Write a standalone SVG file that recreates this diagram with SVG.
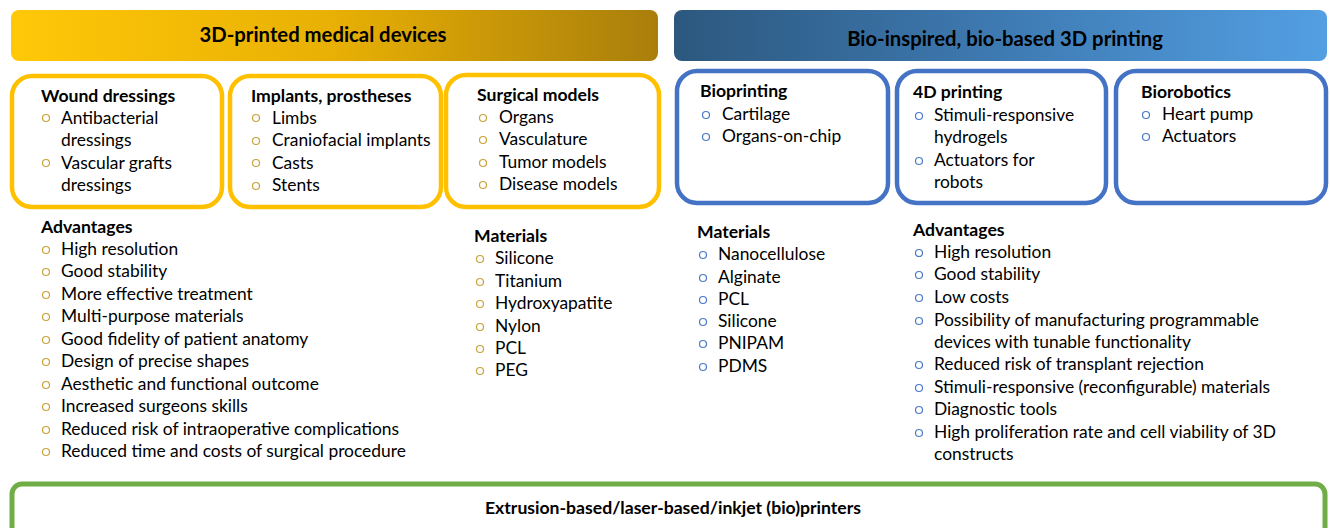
<svg xmlns="http://www.w3.org/2000/svg" width="1330" height="528" viewBox="0 0 1330 528">
<defs>
<linearGradient id="gGold" x1="0" y1="0" x2="1" y2="0">
<stop offset="0" stop-color="#FFC808"/>
<stop offset="0.5" stop-color="#E8B004"/>
<stop offset="1" stop-color="#A97E0C"/>
</linearGradient>
<linearGradient id="gBlue" x1="0" y1="0" x2="1" y2="0">
<stop offset="0" stop-color="#2C587E"/>
<stop offset="0.5" stop-color="#3E7AB2"/>
<stop offset="1" stop-color="#539FE2"/>
</linearGradient>
<style>
text{font-family:Lato,"Open Sans","Liberation Sans",sans-serif;fill:#000;}
.t{font-size:17.4px;}
.h{font-size:17.6px;font-weight:bold;}
.ttl{font-size:20.3px;font-weight:bold;text-anchor:middle;}
.gbox{fill:#fff;stroke:#FFC000;stroke-width:4.5;}
.bbox{fill:#fff;stroke:#4472C4;stroke-width:4.5;}
.gb{fill:none;stroke:#C9A23A;stroke-width:1.2;}
.bb{fill:none;stroke:#4A78C8;stroke-width:1.2;}
</style>
</defs>
<rect width="1330" height="528" fill="#fff"/>

<g id="banner-left">
<rect x="11" y="10" width="647" height="51" rx="8" fill="url(#gGold)"/>
<text class="ttl" x="323" y="42">3D-printed medical devices</text>
</g>
<g id="banner-right">
<rect x="674" y="10" width="653" height="51" rx="8" fill="url(#gBlue)"/>
<text class="ttl" x="1005" y="46">Bio-inspired, bio-based 3D printing</text>
</g>

<g id="wound-dressings">
<rect class="gbox" x="12" y="76" width="210" height="131" rx="20"/>
<text class="h" x="41" y="102">Wound dressings</text>
<circle class="gb" cx="46" cy="118" r="3.5"/><text class="t" x="61" y="124">Antibacterial</text>
<text class="t" x="61" y="146">dressings</text>
<circle class="gb" cx="46" cy="163" r="3.5"/><text class="t" x="61" y="169">Vascular grafts</text>
<text class="t" x="61" y="191">dressings</text>
</g>

<g id="implants">
<rect class="gbox" x="230" y="76" width="211" height="131" rx="20"/>
<text class="h" x="251" y="102">Implants, prostheses</text>
<circle class="gb" cx="256" cy="118" r="3.5"/><text class="t" x="272" y="124">Limbs</text>
<circle class="gb" cx="256" cy="141" r="3.5"/><text class="t" x="272" y="146">Craniofacial implants</text>
<circle class="gb" cx="256" cy="163" r="3.5"/><text class="t" x="272" y="169">Casts</text>
<circle class="gb" cx="256" cy="186" r="3.5"/><text class="t" x="272" y="191">Stents</text>
</g>

<g id="surgical-models">
<rect class="gbox" x="446" y="75" width="213" height="132" rx="20"/>
<text class="h" x="477" y="101">Surgical models</text>
<circle class="gb" cx="483" cy="118" r="3.5"/><text class="t" x="499" y="123">Organs</text>
<circle class="gb" cx="483" cy="140" r="3.5"/><text class="t" x="499" y="145">Vasculature</text>
<circle class="gb" cx="483" cy="163" r="3.5"/><text class="t" x="499" y="168">Tumor models</text>
<circle class="gb" cx="483" cy="185" r="3.5"/><text class="t" x="499" y="190">Disease models</text>
</g>

<g id="advantages-left">
<text class="h" x="41" y="233">Advantages</text>
<circle class="gb" cx="46" cy="250" r="3.5"/><text class="t" x="61" y="255">High resolution</text>
<circle class="gb" cx="46" cy="272" r="3.5"/><text class="t" x="61" y="277">Good stability</text>
<circle class="gb" cx="46" cy="295" r="3.5"/><text class="t" x="61" y="300">More effective treatment</text>
<circle class="gb" cx="46" cy="317" r="3.5"/><text class="t" x="61" y="322">Multi-purpose materials</text>
<circle class="gb" cx="46" cy="340" r="3.5"/><text class="t" x="61" y="345">Good fidelity of patient anatomy</text>
<circle class="gb" cx="46" cy="362" r="3.5"/><text class="t" x="61" y="367">Design of precise shapes</text>
<circle class="gb" cx="46" cy="385" r="3.5"/><text class="t" x="61" y="390">Aesthetic and functional outcome</text>
<circle class="gb" cx="46" cy="407" r="3.5"/><text class="t" x="61" y="412">Increased surgeons skills</text>
<circle class="gb" cx="46" cy="430" r="3.5"/><text class="t" x="61" y="435">Reduced risk of intraoperative complications</text>
<circle class="gb" cx="46" cy="452" r="3.5"/><text class="t" x="61" y="457">Reduced time and costs of surgical procedure</text>
</g>

<g id="materials-left">
<text class="h" x="474" y="242">Materials</text>
<circle class="gb" cx="480" cy="259" r="3.5"/><text class="t" x="495" y="264">Silicone</text>
<circle class="gb" cx="480" cy="282" r="3.5"/><text class="t" x="495" y="287">Titanium</text>
<circle class="gb" cx="480" cy="304" r="3.5"/><text class="t" x="495" y="309">Hydroxyapatite</text>
<circle class="gb" cx="480" cy="327" r="3.5"/><text class="t" x="495" y="332">Nylon</text>
<circle class="gb" cx="480" cy="349" r="3.5"/><text class="t" x="495" y="354">PCL</text>
<circle class="gb" cx="480" cy="371" r="3.5"/><text class="t" x="495" y="376">PEG</text>
</g>

<g id="bioprinting">
<rect class="bbox" x="677" y="71" width="211" height="132" rx="20"/>
<text class="h" x="700" y="97">Bioprinting</text>
<circle class="bb" cx="706" cy="115" r="3.5"/><text class="t" x="722" y="120">Cartilage</text>
<circle class="bb" cx="706" cy="137" r="3.5"/><text class="t" x="722" y="142">Organs-on-chip</text>
</g>

<g id="printing-4d">
<rect class="bbox" x="897" y="71" width="209" height="132" rx="20"/>
<text class="h" x="913" y="98">4D printing</text>
<circle class="bb" cx="919" cy="116" r="3.5"/><text class="t" x="934" y="121">Stimuli-responsive</text>
<text class="t" x="934" y="143">hydrogels</text>
<circle class="bb" cx="919" cy="161" r="3.5"/><text class="t" x="934" y="166">Actuators for</text>
<text class="t" x="934" y="188">robots</text>
</g>

<g id="biorobotics">
<rect class="bbox" x="1116" y="71" width="210" height="132" rx="20"/>
<text class="h" x="1141" y="98">Biorobotics</text>
<circle class="bb" cx="1146" cy="115" r="3.5"/><text class="t" x="1162" y="120">Heart pump</text>
<circle class="bb" cx="1146" cy="137" r="3.5"/><text class="t" x="1162" y="142">Actuators</text>
</g>

<g id="materials-right">
<text class="h" x="697" y="238">Materials</text>
<circle class="bb" cx="703" cy="255" r="3.5"/><text class="t" x="718" y="260">Nanocellulose</text>
<circle class="bb" cx="703" cy="278" r="3.5"/><text class="t" x="718" y="283">Alginate</text>
<circle class="bb" cx="703" cy="300" r="3.5"/><text class="t" x="718" y="305">PCL</text>
<circle class="bb" cx="703" cy="322" r="3.5"/><text class="t" x="718" y="327">Silicone</text>
<circle class="bb" cx="703" cy="344" r="3.5"/><text class="t" x="718" y="349">PNIPAM</text>
<circle class="bb" cx="703" cy="367" r="3.5"/><text class="t" x="718" y="372">PDMS</text>
</g>

<g id="advantages-right">
<text class="h" x="913" y="236">Advantages</text>
<circle class="bb" cx="919" cy="253" r="3.5"/><text class="t" x="934" y="258">High resolution</text>
<circle class="bb" cx="919" cy="275" r="3.5"/><text class="t" x="934" y="280">Good stability</text>
<circle class="bb" cx="919" cy="298" r="3.5"/><text class="t" x="934" y="303">Low costs</text>
<circle class="bb" cx="919" cy="321" r="3.5"/><text class="t" x="934" y="326">Possibility of manufacturing programmable</text>
<text class="t" x="934" y="348">devices with tunable functionality</text>
<circle class="bb" cx="919" cy="365" r="3.5"/><text class="t" x="934" y="370">Reduced risk of transplant rejection</text>
<circle class="bb" cx="919" cy="388" r="3.5"/><text class="t" x="934" y="393">Stimuli-responsive (reconfigurable) materials</text>
<circle class="bb" cx="919" cy="410" r="3.5"/><text class="t" x="934" y="415">Diagnostic tools</text>
<circle class="bb" cx="919" cy="433" r="3.5"/><text class="t" x="934" y="438">High proliferation rate and cell viability of 3D</text>
<text class="t" x="934" y="460">constructs</text>
</g>

<g id="printers">
<rect x="12" y="484" width="1313" height="60" rx="10" fill="#fff" stroke="#70AD47" stroke-width="5"/>
<text x="673" y="514" style="font-size:17.6px;font-weight:bold;text-anchor:middle">Extrusion-based/laser-based/inkjet (bio)printers</text>
</g>

<g id="connectors"></g>
</svg>
